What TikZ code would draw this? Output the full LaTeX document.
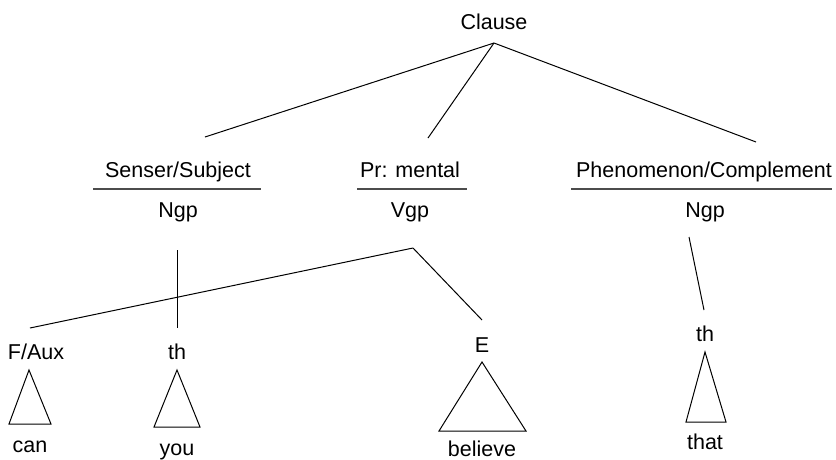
\documentclass[tikz,border=0pt]{standalone}
\usepackage{fontspec}
\setmainfont{Liberation Sans}
\usetikzlibrary{positioning}

\begin{document}
\begin{tikzpicture}[x=1pt, y=-1pt, line width=1pt,
    every node/.style={
        inner sep=0pt,
        anchor=base,
        font=\fontsize{21.5}{25}\selectfont
    },
    rule/.style={line width=1.5pt, draw=black!70},
    leaf/.style={line width=1pt, line join=miter}]

    \useasboundingbox (0,0) rectangle (836,459);

    % Clause and its three functions
    \node (clause) at (494,29) {Clause};
    \coordinate (clause-foot) at (494,43);

    \node (senser) at (178,177) {Senser/Subject};
    \node (prmental) at (410,177) {Pr: mental};
    \node (phen) at (704,177) {Phenomenon/Complement};

    \coordinate (senser-top) at (205,137);
    \coordinate (prmental-top) at (428,138);
    \coordinate (phen-top) at (756,142);

    \draw (clause-foot) -- (senser-top);
    \draw (clause-foot) -- (prmental-top);
    \draw (clause-foot) -- (phen-top);

    % Rules between function and class
    \draw[rule] (93,189) -- (261,189);
    \draw[rule] (357,189) -- (467,189);
    \draw[rule] (571,189) -- (832,189);

    \node (ngp1) at (178,217) {Ngp};
    \node (vgp) at (410,217) {Vgp};
    \node (ngp2) at (705,217) {Ngp};

    % Groups split into elements
    \node (faux) at (36,359) {F/Aux};
    \node (thing1) at (177,359) {th};
    \node (event) at (482,352) {E};
    \node (thing2) at (705,341) {th};

    \coordinate (ngp1-foot) at (177,250);
    \coordinate (thing1-top) at (177,328);
    \coordinate (vgp-foot) at (413,248);
    \coordinate (faux-top) at (30,328);
    \coordinate (event-top) at (482,320);
    \coordinate (ngp2-foot) at (689,237);
    \coordinate (thing2-top) at (704,310);

    \draw (ngp1-foot) -- (thing1-top);
    \draw (vgp-foot) -- (faux-top);
    \draw (vgp-foot) -- (event-top);
    \draw (ngp2-foot) -- (thing2-top);

    % Triangles over the words
    \draw[leaf] (29,370) -- (51,424) -- (9,424) -- cycle;
    \draw[leaf] (177,370) -- (200,427) -- (154,427) -- cycle;
    \draw[leaf] (482,362) -- (526,431) -- (439,431) -- cycle;
    \draw[leaf] (705,352) -- (726,422) -- (686,422) -- cycle;

    \node (can) at (30,452) {can};
    \node (you) at (177,455) {you};
    \node (believe) at (482,456) {believe};
    \node (that) at (705,449) {that};
\end{tikzpicture}
\end{document}
